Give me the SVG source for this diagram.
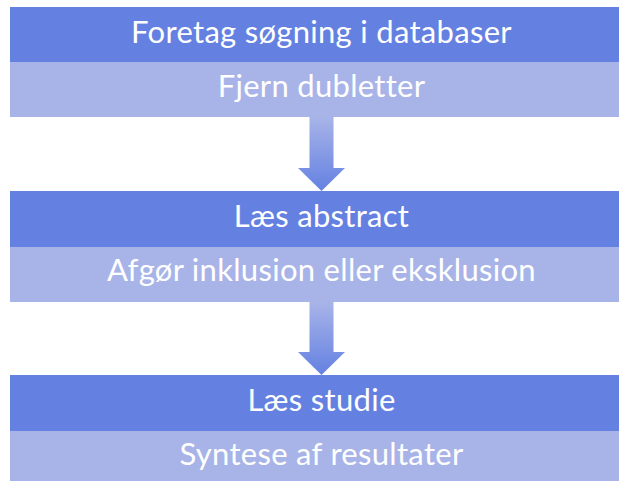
<svg xmlns="http://www.w3.org/2000/svg" width="619" height="481" viewBox="0 0 619 481">
<defs>
<linearGradient id="ag" x1="0" y1="0" x2="0" y2="1">
<stop offset="0" stop-color="#A8B4E8"/>
<stop offset="1" stop-color="#6481E2"/>
</linearGradient>
<style>
.dark{fill:#6481E2}
.light{fill:#A8B4E8}
.t{font-family:"Lato","Open Sans","Liberation Sans",sans-serif;font-size:31px;letter-spacing:0.3px;fill:#fff;text-anchor:middle}
.arrow{fill:url(#ag)}
</style>
</defs>
<rect width="619" height="481" fill="#fff"/>
<g id="connectors">
<path class="arrow" d="M309.5,117 H333.5 V168 H345 L321.5,191 L298,168 H309.5 Z"/>
<path class="arrow" d="M309.5,302 H333.5 V352 H345 L321.5,375 L298,352 H309.5 Z"/>
</g>
<g id="node1">
<rect class="dark" x="10" y="7" width="620" height="55"/>
<text class="t" x="321.5" y="43">Foretag søgning i databaser</text>
</g>
<g id="node1b">
<rect class="light" x="10" y="62" width="620" height="55"/>
<text class="t" x="321.5" y="97">Fjern dubletter</text>
</g>
<g id="node2">
<rect class="dark" x="10" y="191" width="620" height="56"/>
<text class="t" x="321.5" y="227">Læs abstract</text>
</g>
<g id="node2b">
<rect class="light" x="10" y="247" width="620" height="55"/>
<text class="t" x="321.5" y="281">Afgør inklusion eller eksklusion</text>
</g>
<g id="node3">
<rect class="dark" x="10" y="375" width="620" height="56"/>
<text class="t" x="321.5" y="411">Læs studie</text>
</g>
<g id="node3b">
<rect class="light" x="10" y="431" width="620" height="55"/>
<text class="t" x="321.5" y="465">Syntese af resultater</text>
</g>
</svg>
